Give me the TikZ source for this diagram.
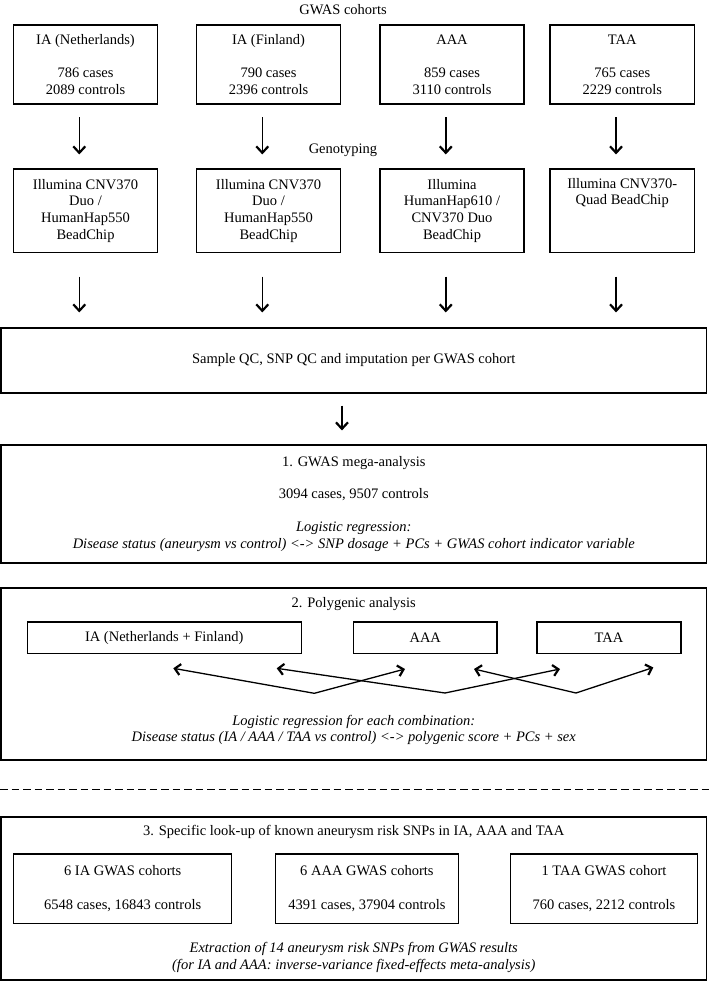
\documentclass[tikz,border=0pt]{standalone}
\usepackage{fontspec}
\setmainfont{Liberation Serif}
\usetikzlibrary{arrows.meta}
\begin{document}
\begin{tikzpicture}[x=1pt,y=-1pt,
  every node/.style={font=\fontsize{14.5}{16.7}\selectfont, align=center, inner sep=0pt},
  box/.style={draw, line width=1.1pt},
  varr/.style={line width=1.4pt, -{Straight Barb[length=6.5pt,width=12pt,line width=2.2pt]}},
  parr/.style={line width=1.3pt, {Straight Barb[length=5.5pt,width=11pt,line width=2.2pt]}-{Straight Barb[length=5.5pt,width=11pt,line width=2.2pt]}}]
\useasboundingbox (0,0) rectangle (709,982);

% titles
\node (t1) at (343,9.5) {GWAS cohorts};
\node (t2) at (343,150) {Genotyping};

% row 1
\node[box, minimum width=144pt, minimum height=79pt] (a1) at (85.5,64.5) {IA (Netherlands)\\[16.7pt]786 cases\\2089 controls};
\node[box, minimum width=144pt, minimum height=79pt] (a2) at (268.5,64.5) {IA (Finland)\\[16.7pt]790 cases\\2396 controls};
\node[box, minimum width=144pt, minimum height=79pt] (a3) at (452,64.5) {AAA\\[16.7pt]859 cases\\3110 controls};
\node[box, minimum width=144.5pt, minimum height=79pt] (a4) at (622.25,64.5) {TAA\\[16.7pt]765 cases\\2229 controls};

% row 2
\node[box, minimum width=144pt, minimum height=83.5pt] (b1) at (85.5,210.75) {Illumina CNV370\\Duo /\\HumanHap550\\BeadChip};
\node[box, minimum width=144pt, minimum height=83.5pt] (b2) at (268.5,210.75) {Illumina CNV370\\Duo /\\HumanHap550\\BeadChip};
\node[box, minimum width=144pt, minimum height=83.5pt] (b3) at (452,210.75) {Illumina\\HumanHap610 /\\CNV370 Duo\\BeadChip};
\node[box, minimum width=144.5pt, minimum height=83.5pt] (b4) at (622.25,210.75) {Illumina CNV370-\\Quad BeadChip\\\strut\\\strut};

% sample QC
\node[box, minimum width=705.5pt, minimum height=65pt] (sqc) at (353.75,360.5) {Sample QC, SNP QC and imputation per GWAS cohort};

% GWAS mega-analysis
\node[box, minimum width=705.5pt, minimum height=118pt] (gw) at (353.75,504) {1. GWAS mega-analysis\\[15pt]3094 cases, 9507 controls\\[16.7pt]\textit{Logistic regression:}\\\textit{Disease status (aneurysm vs control) <-> SNP dosage + PCs + GWAS cohort indicator variable}};

% polygenic
\node[box, minimum width=705.5pt, minimum height=172pt] (pg) at (353.75,674) {};
\node (pgt) at (353.75,604.5) {2. Polygenic analysis};
\node[box, minimum width=274pt, minimum height=31.5pt] (p1) at (164.25,637.75) {IA (Netherlands + Finland)};
\node[box, minimum width=143.5pt, minimum height=31.5pt] (p2) at (425.25,637.75) {AAA};
\node[box, minimum width=144pt, minimum height=31.5pt] (p3) at (609,637.75) {TAA};
\node (pgi) at (353.75,730) {\textit{Logistic regression for each combination:}\\\textit{Disease status (IA / AAA / TAA vs control) <-> polygenic score + PCs + sex}};

\coordinate (q1) at (173.3,668.3);
\coordinate (q2) at (276.7,668.3);
\coordinate (q3) at (405,669);
\coordinate (q4) at (474,669);
\coordinate (q5) at (560,669);
\coordinate (q6) at (653.3,667.5);
\coordinate (v1) at (314.3,693.3);
\coordinate (v2) at (445,693);
\coordinate (v3) at (576,693);
\draw[parr] (q1) -- (v1) -- (q3);
\draw[parr] (q2) -- (v2) -- (q5);
\draw[parr] (q4) -- (v3) -- (q6);

% dashed separator
\coordinate (d1) at (0,789);
\coordinate (d2) at (709,789);
\draw[line width=1pt, dash pattern=on 7.5pt off 4pt] (d1) -- (d2);

% specific look-up
\node[box, minimum width=705.5pt, minimum height=163pt] (sp) at (353.75,898.5) {};
\node (spt) at (353.75,831.7) {3. Specific look-up of known aneurysm risk SNPs in IA, AAA and TAA};
\node[box, minimum width=218.2pt, minimum height=69.3pt] (s1) at (122.7,888.65) {6 IA GWAS cohorts\\[16.7pt]6548 cases, 16843 controls};
\node[box, minimum width=183.4pt, minimum height=69.3pt] (s2) at (366.9,888.65) {6 AAA GWAS cohorts\\[16.7pt]4391 cases, 37904 controls};
\node[box, minimum width=186.7pt, minimum height=69.3pt] (s3) at (603.95,888.65) {1 TAA GWAS cohort\\[16.7pt]760 cases, 2212 controls};
\node (spi) at (353.75,957.2) {\textit{Extraction of 14 aneurysm risk SNPs from GWAS results}\\\textit{(for IA and AAA: inverse-variance fixed-effects meta-analysis)}};

% vertical arrows
\foreach \i in {1,2,3,4}{
  \draw[varr, shorten <=12.7pt, shorten >=14pt] ([xshift=-6.2pt]a\i.south) -- ([xshift=-6.2pt]b\i.north);
  \draw[varr, shorten <=23.5pt, shorten >=15pt] ([xshift=-6.2pt]b\i.south) -- ([xshift=-6.2pt]b\i.south |- sqc.north);
}
\draw[varr, shorten <=12pt, shorten >=14pt] ([xshift=-11.8pt]sqc.south) -- ([xshift=-11.8pt]gw.north);
\end{tikzpicture}
\end{document}
